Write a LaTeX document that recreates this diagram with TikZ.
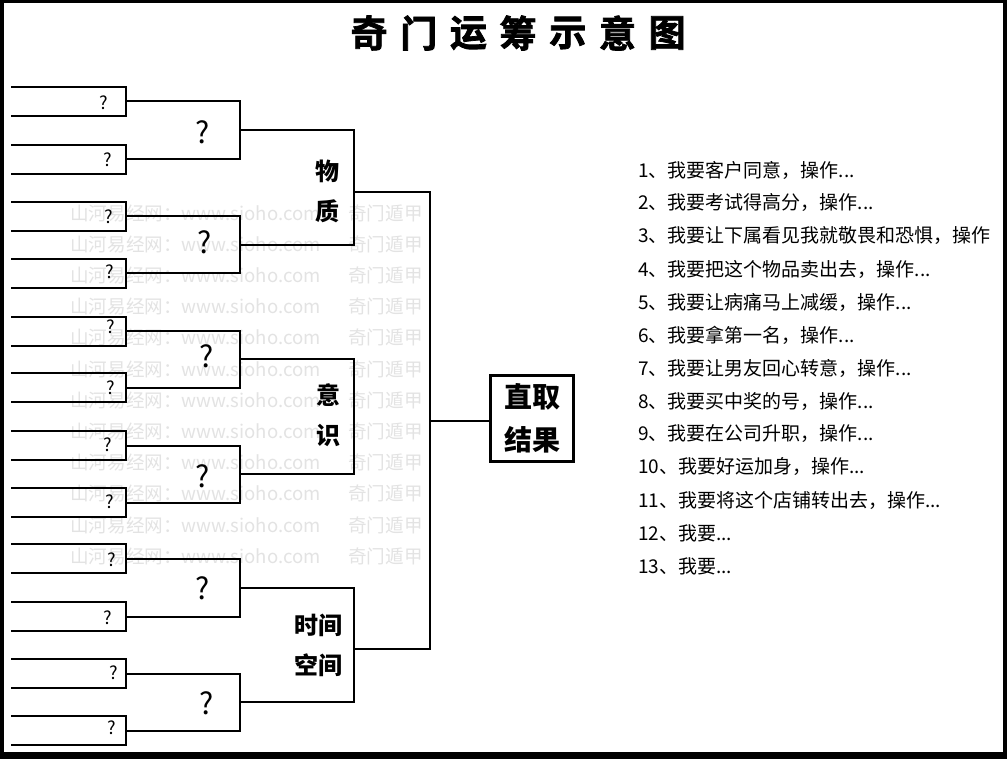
\documentclass[tikz,border=0pt]{standalone}
\usepackage{fontspec}
\usetikzlibrary{calc}
\setmainfont{Noto Sans CJK SC}
\newfontfamily\titlefont[FakeBold=2]{Noto Sans CJK SC Bold}
\definecolor{wm}{gray}{0.89}
\newcommand{\myell}{...}
\tikzset{
  x=1pt, y=-1pt,
  br/.style={line width=2pt, line join=miter, line cap=rect},
  qs/.style={font=\fontsize{18}{18}\selectfont, inner sep=0pt},
  qb/.style={font=\fontsize{30}{30}\selectfont, inner sep=0pt},
  lab/.style={font=\fontsize{24}{24}\selectfont\bfseries, inner sep=0pt},
  res/.style={font=\fontsize{28}{28}\selectfont\bfseries, inner sep=0pt},
  item/.style={font=\fontsize{19}{19}\selectfont, inner sep=0pt, anchor=west},
  wmark/.style={font=\fontsize{18.6}{18.6}\selectfont, text=wm, inner sep=0pt, anchor=west},
  ttl/.style={font=\fontsize{37}{37}\selectfont\titlefont, inner sep=0pt}
}
\begin{document}
\begin{tikzpicture}
\useasboundingbox (0,0) rectangle (1007,759);
\fill[black] (0,0) rectangle (1007,759);
\fill[white] (4,3) rectangle (1003,752);

% watermark
\foreach \k in {0,...,11}{
  \node[wmark] (wa\k) at (70,{213+31.2*\k}) {山河易经网：www.sioho.com};
  \node[wmark] (wb\k) at (348,{213+31.2*\k}) {奇门遁甲};
}

% title
\foreach \c [count=\i from 0] in {奇,门,运,筹,示,意,图}{
  \node[ttl] (t\i) at ({369+49.7*\i},33) {\c};
}

% leaves
\foreach \t [count=\i] in {87,145,202,259,317,373,431,488,544,602,659,716}{
  \coordinate (la\i) at (12,\t);
  \coordinate (lb\i) at (126,\t);
  \coordinate (lc\i) at (126,\t+29);
  \coordinate (ld\i) at (12,\t+29);
  \coordinate (lm\i) at (126,\t+14.5);
  \draw[br] (la\i) -- (lb\i) -- (lc\i) -- (ld\i);
}
\node[qs] (q1) at (104,103) {?};
\node[qs] (q2) at (108,160) {?};
\node[qs] (q3) at (109,217) {?};
\node[qs] (q4) at (110,272) {?};
\node[qs] (q5) at (111,327) {?};
\node[qs] (q6) at (111,388) {?};
\node[qs] (q7) at (108,445) {?};
\node[qs] (q8) at (110,502) {?};
\node[qs] (q9) at (112,560) {?};
\node[qs] (q10) at (108,618) {?};
\node[qs] (q11) at (114,673) {?};
\node[qs] (q12) at (112,728) {?};

% level 2 brackets
\foreach \j in {1,...,6}{
  \pgfmathtruncatemacro{\a}{2*\j-1}
  \pgfmathtruncatemacro{\b}{2*\j}
  \coordinate (ma\j) at ([xshift=114pt]lm\a);
  \coordinate (mb\j) at ([xshift=114pt]lm\b);
  \coordinate (mm\j) at ($(ma\j)!0.5!(mb\j)$);
  \draw[br] (lm\a) -- (ma\j) -- (mb\j) -- (lm\b);
}
\node[qb] (Q1) at (203,132) {?};
\node[qb] (Q2) at (205,242) {?};
\node[qb] (Q3) at (207,356) {?};
\node[qb] (Q4) at (203,476) {?};
\node[qb] (Q5) at (203,588) {?};
\node[qb] (Q6) at (207,703) {?};

% level 3 brackets
\foreach \k/\a/\b in {1/1/2,2/3/4,3/5/6}{
  \coordinate (na\k) at ([xshift=114pt]mm\a);
  \coordinate (nb\k) at ([xshift=114pt]mm\b);
  \draw[br] (mm\a) -- (na\k) -- (nb\k) -- (mm\b);
}
\node[lab] (w1) at (327,171) {物};
\node[lab] (w2) at (327,211) {质};
\node[lab] (y1) at (328,395) {意};
\node[lab] (y2) at (328,435) {识};
\node[lab] (s1) at (318,625) {时间};
\node[lab] (s2) at (318,665) {空间};

% level 4
\coordinate (pa) at (354,192);
\coordinate (pb) at (354,649);
\coordinate (qa) at (430,192);
\coordinate (qb) at (430,649);
\coordinate (qm) at (430,421);
\draw[br] (pa) -- (qa) -- (qb) -- (pb);

% result box
\node[draw, line width=3pt, minimum width=83pt, minimum height=86pt, inner sep=0pt] (R) at (532,418.5) {};
\node[res] (r1) at (532,397) {直取};
\node[res] (r2) at (532,440) {结果};
\draw[br] (qm) -- (qm -| R.west);

% list
\foreach \s [count=\i from 0] in {
 {1、我要客户同意，操作\myell},
 {2、我要考试得高分，操作\myell},
 {3、我要让下属看见我就敬畏和恐惧，操作},
 {4、我要把这个物品卖出去，操作\myell},
 {5、我要让病痛马上减缓，操作\myell},
 {6、我要拿第一名，操作\myell},
 {7、我要让男友回心转意，操作\myell},
 {8、我要买中奖的号，操作\myell},
 {9、我要在公司升职，操作\myell},
 {10、我要好运加身，操作\myell},
 {11、我要将这个店铺转出去，操作\myell},
 {12、我要\myell},
 {13、我要\myell}}{
  \node[item] (it\i) at (638,{170+33*\i}) {\s};
}
\end{tikzpicture}
\end{document}
